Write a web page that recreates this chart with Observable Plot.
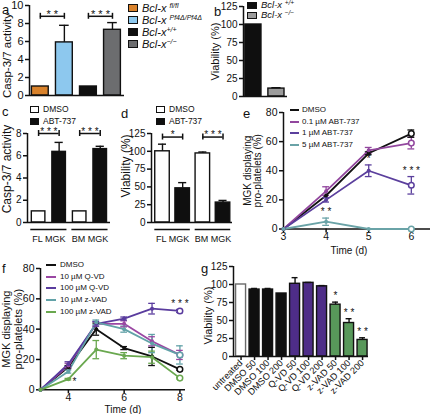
<!DOCTYPE html>
<html>
<head>
<meta charset="utf-8">
<script src="https://cdn.jsdelivr.net/npm/d3@7"></script>
<script src="https://cdn.jsdelivr.net/npm/@observablehq/plot@0.6"></script>
<style>
html,body{margin:0;padding:0;background:#fff;}
#fig{position:relative;width:432px;height:414px;overflow:hidden;background:#fff;font-family:"Liberation Sans",Arial,Helvetica,sans-serif;color:#111;}
#fig > svg{position:absolute;left:0;top:0;}
</style>
</head>
<body>
<div id="fig"></div>
<script>
// ================= DATA =================
// panel a
const aGenotypes = ["fl/fl", "Pf4Δ/Pf4Δ", "+/+", "−/−"];
const aCasp = [1, 5.9, 1, 7.3];
const aCaspErr = [0, 1.9, 0, 0.8];
const aColors = ["#d9822b", "#8dc8ee", "#0f0f0f", "#6c6d6f"];
const aSig = ["* *", "* * *"];
const aSigLevel = 8.8;
// panel b
const bGenotypes = ["+/+", "−/−"];
const bViability = [100, 11];
const bViabilityErr = [0, 1.2];
const bColors = ["#0f0f0f", "#9c9c9c"];
// panels c, d
const cdCells = ["FL MGK", "BM MGK"];
const cdTreatments = ["DMSO", "ABT-737"];
const cdColors = ["#ffffff", "#0f0f0f"];
const cDMSO = [1, 1];
const cDMSOErr = [0, 0];
const cABT = [6.35, 6.6];
const cABTErr = [0.85, 0.25];
const cSig = ["* * *", "* * *"];
const cSigLevel = 8.0;
const dDMSO = [100, 97];
const dDMSOErr = [10, 2];
const dABT = [48, 28];
const dABTErr = [8, 3];
const dSig = ["*", "* * *"];
const dSigLevel = 120;
// panel e
const eDays = [3, 4, 5, 6];
const eSeries = ["DMSO", "0.1 µM ABT-737", "1 µM ABT-737", "5 µM ABT-737"];
const eColors = ["#111111", "#92479e", "#5b3f9d", "#6aa3a7"];
const eDMSO = [0, 23, 52, 65.5];
const eDMSOErr = [0, 0, 1, 2.5];
const eABT01 = [0, 26, 54, 59];
const eABT01Err = [0, 3, 2, 4];
const eABT1 = [0, 20, 40, 30];
const eABT1Err = [0, 1.5, 4, 6];
const eABT5 = [0, 5, 0, 0];
const eABT5Err = [0, 2.5, 0, 0];
const eStars = [
  {series: "1 µM ABT-737", day: 5, label: "*", place: "above"},
  {series: "1 µM ABT-737", day: 6, label: "* * *", place: "above"},
  {series: "5 µM ABT-737", day: 4, label: "* *", place: "above"}
];
// panel f
const fDays = [3, 4, 5, 6, 7, 8];
const fSeries = ["DMSO", "10 µM Q-VD", "100 µM Q-VD", "10 µM z-VAD", "100 µM z-VAD"];
const fColors = ["#111111", "#9a47a3", "#5a3c9e", "#62a2a8", "#6aa84f"];
const fDMSO = [0, 15, 40, 27.5, 22, 13.5];
const fDMSOErr = [0, 1, 4, 1, 6, 0.5];
const fQVD10 = [0, 16, 43.5, 43.5, 32, 23];
const fQVD10Err = [0, 1.5, 1.5, 2, 3, 3];
const fQVD100 = [0, 17, 43.5, 47, 53.5, 52];
const fQVD100Err = [0, 1.5, 1.5, 1, 3.5, 1];
const fZVAD10 = [0, 12, 44.5, 40, 30.5, 23];
const fZVAD10Err = [0, 1, 1.5, 2, 6, 6];
const fZVAD100 = [0, 7, 26.5, 22.5, 21.5, 7.7];
const fZVAD100Err = [0, 0.5, 6, 2, 4, 0.5];
const fStars = [
  {series: "100 µM Q-VD", day: 8, label: "* * *", place: "above"},
  {series: "100 µM z-VAD", day: 4, label: "*", place: "right"}
];
// panel g
const gConditions = ["untreated", "DMSO 50", "DMSO 100", "DMSO 200", "Q-VD 50", "Q-VD 100", "Q-VD 200", "z-VAD 50", "z-VAD 100", "z-VAD 200"];
const gViability = [100, 93, 93, 87.5, 101, 102.3, 97.5, 72, 46.5, 23];
const gViabilityErr = [0, 1.5, 1.5, 0, 8.5, 0.5, 1, 3.5, 6, 3];
const gFills = ["#ffffff", "#0f0f0f", "#0f0f0f", "#0f0f0f", "#4e2d88", "#4e2d88", "#4e2d88", "#58985a", "#58985a", "#58985a"];
const gSig = ["", "", "", "", "", "", "", "*", "* *", "* *"];

// ================= HELPERS =================
const FONT = '"Liberation Sans", Arial, Helvetica, sans-serif';
const INK = "#111";
const fig = document.getElementById("fig");
const STYLE = {background: "transparent", fontFamily: FONT, color: INK, overflow: "visible"};

function frame(l, t, r, b) {
  return {width: 432, height: 414, marginLeft: l, marginTop: t, marginRight: 432 - r, marginBottom: 414 - b};
}
function mount(svg) { fig.appendChild(svg); }

function addBox(x, y, w, h, fill, border) {
  const d = document.createElement("div");
  Object.assign(d.style, {position: "absolute", left: x + "px", top: y + "px", width: w + "px", height: h + "px",
    background: fill, boxSizing: "border-box", border: border || "none"});
  fig.appendChild(d);
}
function addText(x, yc, html, css) {
  const d = document.createElement("div");
  d.innerHTML = html;
  Object.assign(d.style, {position: "absolute", left: x + "px", top: yc + "px", transform: "translateY(-50%)",
    whiteSpace: "nowrap", lineHeight: "1", fontFamily: FONT, color: INK}, css || {});
  fig.appendChild(d);
}

function yTitle(text, dx, dy, size, lh) {
  return Plot.text([text], {frameAnchor: "left", text: d => d, rotate: -90, textAnchor: "middle", lineAnchor: "middle",
    dx, dy: dy || 0, fontSize: size, lineHeight: lh || 1.1, fill: INK});
}

function bracketMarks(list, capLen, size) {
  const ends = list.flatMap(b => [{x: b.x1, y: b.y}, {x: b.x2, y: b.y}]);
  return [
    Plot.ruleY(list, {y: "y", x1: "x1", x2: "x2", stroke: INK, strokeWidth: 1.5}),
    Plot.ruleX(ends, {x: "x", y1: d => d.y - capLen, y2: d => d.y + capLen, stroke: INK, strokeWidth: 1.5}),
    Plot.text(list, {x: b => (b.x1 + b.x2) / 2, y: "y", text: "label", dy: -2, fontSize: size, fill: INK})
  ];
}

function barPanel(o) {
  const bars = o.values.map((v, i) => ({x: i, v, e: o.errors[i], fill: o.fills[i], stroke: o.strokes ? o.strokes[i] : INK}));
  const withErr = bars.filter(d => d.e > 0);
  const marks = [
    Plot.rect(bars, {x1: d => d.x - o.hw, x2: d => d.x + o.hw, y1: 0, y2: "v", fill: "fill", stroke: "stroke", strokeWidth: 1.4}),
    Plot.ruleX(withErr, {x: "x", y1: "v", y2: d => d.v + d.e, stroke: INK, strokeWidth: 1.4}),
    Plot.ruleY(withErr, {y: d => d.v + d.e, x1: d => d.x - o.cap, x2: d => d.x + o.cap, stroke: INK, strokeWidth: 1.4}),
    Plot.ruleX([o.xDomain[0]], {stroke: INK, strokeWidth: 1.5}),
    Plot.ruleY([0], {stroke: INK, strokeWidth: 1.5}),
    Plot.axisY({ticks: o.yTicks, tickSize: 4, tickPadding: 2, fontSize: o.tickFont, label: null, strokeWidth: 1.5}),
    yTitle(o.yLabel, o.labelDx, o.labelDy, o.labelFont)
  ];
  if (o.brackets) marks.push(...bracketMarks(o.brackets, o.bracketCap, o.starFont));
  if (o.groups) {
    marks.push(Plot.ruleY(o.groups, {y: 0, x1: "x1", x2: "x2", dy: 7, stroke: INK, strokeWidth: 1.5}));
    marks.push(Plot.text(o.groups, {x: g => (g.x1 + g.x2) / 2, y: 0, text: "label", dy: 17, fontSize: 9, fill: INK}));
  }
  if (o.stars) {
    const st = bars.map((d, i) => ({x: d.x, y: d.v + d.e, label: o.stars[i]})).filter(d => d.label);
    marks.push(Plot.text(st, {x: "x", y: "y", text: "label", dy: -6, fontSize: o.starFont, fill: INK}));
  }
  if (o.xLabels) {
    marks.push(Plot.axisX({ticks: d3.range(o.xLabels.length), tickFormat: i => o.xLabels[i], tickRotate: -45,
      tickSize: 4, tickPadding: 1, fontSize: 9.2, label: null, strokeWidth: 1.5}));
  }
  return Plot.plot({
    ...frame(...o.frame),
    x: o.xLabels ? {domain: o.xDomain} : {domain: o.xDomain, axis: null},
    y: {domain: o.yDomain},
    color: {type: "identity"},
    style: STYLE,
    marks
  });
}

function linePanel(o) {
  const rows = [];
  o.series.forEach((s, k) => o.days.forEach((day, j) =>
    rows.push({s, x: day, v: o.values[k][j], e: o.errors[k][j], last: j === o.days.length - 1})));
  const err = rows.filter(d => d.e > 0);
  const stars = o.stars.map(st => {
    const r = rows.find(d => d.s === st.series && d.x === st.day);
    return {x: r.x, y: r.v + r.e, label: st.label, place: st.place};
  });
  const marks = [
    Plot.ruleX([o.xDomain[0]], {stroke: INK, strokeWidth: 1.5}),
    Plot.ruleY([0], {stroke: INK, strokeWidth: 1.5}),
    Plot.axisY({ticks: o.yTicks, tickSize: 4, tickPadding: 2, fontSize: o.tickFont, label: null, strokeWidth: 1.5}),
    Plot.axisX({ticks: o.xTicks, tickFormat: d3.format("d"), tickSize: 4, tickPadding: 0, fontSize: o.tickFont, label: null, strokeWidth: 1.5}),
    Plot.line(rows, {x: "x", y: "v", z: "s", stroke: "s", strokeWidth: 1.8}),
    Plot.ruleX(err, {x: "x", y1: d => d.v - d.e, y2: d => d.v + d.e, stroke: "s", strokeWidth: 1.3}),
    Plot.ruleY(err, {y: d => d.v + d.e, x1: d => d.x - o.cap, x2: d => d.x + o.cap, stroke: "s", strokeWidth: 1.3}),
    Plot.ruleY(err, {y: d => d.v - d.e, x1: d => d.x - o.cap, x2: d => d.x + o.cap, stroke: "s", strokeWidth: 1.3}),
    Plot.dot(rows.filter(d => !d.last), {x: "x", y: "v", fill: "s", r: 2}),
    Plot.dot(rows.filter(d => d.last), {x: "x", y: "v", stroke: "s", fill: "white", r: 2.8, strokeWidth: 1.5}),
    Plot.text(stars.filter(d => d.place === "above"), {x: "x", y: "y", text: "label", dy: -6, fontSize: o.starFont, fill: INK}),
    Plot.text(stars.filter(d => d.place === "right"), {x: "x", y: "y", text: "label", dx: 6, dy: 3, fontSize: o.starFont, fill: INK}),
    yTitle(o.yLabel, o.labelDx, 0, o.labelFont, 1.05),
    Plot.text(["Time (d)"], {frameAnchor: "bottom", text: d => d, textAnchor: "middle", lineAnchor: "middle",
      dx: o.timeDx, dy: o.timeDy, fontSize: o.timeFont, fill: INK})
  ];
  return Plot.plot({
    ...frame(...o.frame),
    x: {domain: o.xDomain},
    y: {domain: o.yDomain},
    color: {domain: o.series, range: o.colors},
    style: STYLE,
    marks
  });
}

// ================= PANEL a =================
mount(barPanel({
  frame: [29, 5, 124, 95], xDomain: [-0.45, 3.5], yDomain: [0, 10], yTicks: [0, 2, 4, 6, 8, 10],
  values: aCasp, errors: aCaspErr, fills: aColors, hw: 0.35, cap: 0.2,
  brackets: [{x1: 0, x2: 1, y: aSigLevel, label: aSig[0]}, {x1: 2, x2: 3, y: aSigLevel, label: aSig[1]}],
  bracketCap: 0.33, starFont: 11, tickFont: 11, yLabel: "Casp-3/7 activity", labelDx: -23, labelDy: 5, labelFont: 11.5
}));
// ================= PANEL b =================
mount(barPanel({
  frame: [243, 6, 287, 96], xDomain: [-0.43, 1.48], yDomain: [0, 125], yTicks: [0, 25, 50, 75, 100, 125],
  values: bViability, errors: bViabilityErr, fills: bColors, hw: 0.35, cap: 0.2,
  tickFont: 10, yLabel: "Viability (%)", labelDx: -28, labelFont: 11
}));
// ================= PANEL c =================
const cValues = [cDMSO[0], cABT[0], cDMSO[1], cABT[1]];
const cErrors = [cDMSOErr[0], cABTErr[0], cDMSOErr[1], cABTErr[1]];
const cdFills = [cdColors[0], cdColors[1], cdColors[0], cdColors[1]];
const cdGroups = cdCells.map((label, k) => ({label, x1: 2 * k - 0.38, x2: 2 * k + 1.38}));
mount(barPanel({
  frame: [27, 133, 110, 222], xDomain: [-0.54, 3.5], yDomain: [0, 8], yTicks: [0, 2, 4, 6, 8],
  values: cValues, errors: cErrors, fills: cdFills, hw: 0.33, cap: 0.2,
  brackets: cSig.map((label, k) => ({x1: 2 * k, x2: 2 * k + 1, y: cSigLevel, label})),
  bracketCap: 0.27, starFont: 10, groups: cdGroups,
  tickFont: 10, yLabel: "Casp-3/7 activity", labelDx: -21, labelDy: -9, labelFont: 12
}));
// ================= PANEL d =================
const dValues = [dDMSO[0], dABT[0], dDMSO[1], dABT[1]];
const dErrors = [dDMSOErr[0], dABTErr[0], dDMSOErr[1], dABTErr[1]];
mount(barPanel({
  frame: [151, 133, 232, 222], xDomain: [-0.545, 3.47], yDomain: [0, 125], yTicks: [0, 25, 50, 75, 100, 125],
  values: dValues, errors: dErrors, fills: cdFills, hw: 0.36, cap: 0.2,
  brackets: dSig.map((label, k) => ({x1: 2 * k, x2: 2 * k + 1, y: dSigLevel, label})),
  bracketCap: 4.2, starFont: 10, groups: cdGroups,
  tickFont: 10, yLabel: "Viability (%)", labelDx: -26, labelDy: -12, labelFont: 12
}));
// ================= PANEL e =================
mount(linePanel({
  frame: [283, 112, 430, 228.5], xDomain: [3, 6.45], yDomain: [0, 80], xTicks: [3, 4, 5, 6], yTicks: [0, 20, 40, 60, 80],
  days: eDays, series: eSeries, colors: eColors,
  values: [eDMSO, eABT01, eABT1, eABT5], errors: [eDMSOErr, eABT01Err, eABT1Err, eABT5Err],
  cap: 0.08, stars: eStars, starFont: 10, tickFont: 10.5,
  yLabel: "MGK displaying\npro-platelets (%)", labelDx: -31, labelFont: 10, timeFont: 10, timeDx: -8, timeDy: 22
}));
// ================= PANEL f =================
mount(linePanel({
  frame: [40, 268, 185, 389.3], xDomain: [3, 8.2], yDomain: [0, 80], xTicks: [4, 6, 8], yTicks: [0, 20, 40, 60, 80],
  days: fDays, series: fSeries, colors: fColors,
  values: [fDMSO, fQVD10, fQVD100, fZVAD10, fZVAD100], errors: [fDMSOErr, fQVD10Err, fQVD100Err, fZVAD10Err, fZVAD100Err],
  cap: 0.12, stars: fStars, starFont: 10, tickFont: 10.5,
  yLabel: "MGK displaying\npro-platelets (%)", labelDx: -28, labelFont: 11, timeFont: 10, timeDx: 10, timeDy: 19.5
}));
// ================= PANEL g =================
mount(barPanel({
  frame: [233, 266, 368, 356], xDomain: [-0.56, 9.44], yDomain: [0, 125], yTicks: [0, 25, 50, 75, 100, 125],
  values: gViability, errors: gViabilityErr, fills: gFills,
  strokes: gFills.map((f, i) => i === 0 ? "#6a6a6a" : INK), hw: 0.37, cap: 0.22,
  stars: gSig, starFont: 10, xLabels: gConditions,
  tickFont: 10, yLabel: "Viability (%)", labelDx: -25, labelDy: 4, labelFont: 11
}));

// ================= LEGENDS & PANEL LETTERS (HTML) =================
const supCss = 'font-size:7px;position:relative;top:-4px;font-style:italic;';
aGenotypes.forEach((g, i) => {
  const yc = 8 + 12 * i;
  addBox(128, yc - 4, 10, 8, aColors[i], "1px solid #111");
  addText(142, yc, `Bcl-x${i < 2 ? " " : ""}<span style="${supCss}">${g}</span>`, {fontSize: "11px", fontStyle: "italic"});
});
bGenotypes.forEach((g, i) => {
  const yc = 5 + 10 * i;
  addBox(247, yc - 3.5, 10, 7, bColors[i], "1px solid #111");
  addText(261, yc, `Bcl-x <span style="font-size:6.5px;position:relative;top:-3.5px;">${g}</span>`, {fontSize: "9.5px", fontStyle: "italic"});
});
[30, 156].forEach(x0 => {
  cdTreatments.forEach((t, i) => {
    const yc = 109 + 12 * i;
    addBox(x0, yc - 3, 9, 7, cdColors[i], "1px solid #111");
    addText(x0 + 13, yc, t, {fontSize: "8.5px"});
  });
});
eSeries.forEach((s, i) => {
  const yc = 110 + 11.7 * i;
  addBox(290, yc - 1, 9, 2, eColors[i]);
  addText(302, yc, s, {fontSize: "8px"});
});
fSeries.forEach((s, i) => {
  const yc = 265 + 11.7 * i;
  addBox(46, yc - 1, 10, 2, fColors[i]);
  addText(60, yc, s, {fontSize: "8px"});
});
[["a", 2, 9], ["b", 214, 11], ["c", 2, 111], ["d", 121, 113], ["e", 243, 113], ["f", 2, 268], ["g", 201, 268]]
  .forEach(([t, x, y]) => addText(x, y, t, {fontSize: "13px"}));
</script>
</body>
</html>
